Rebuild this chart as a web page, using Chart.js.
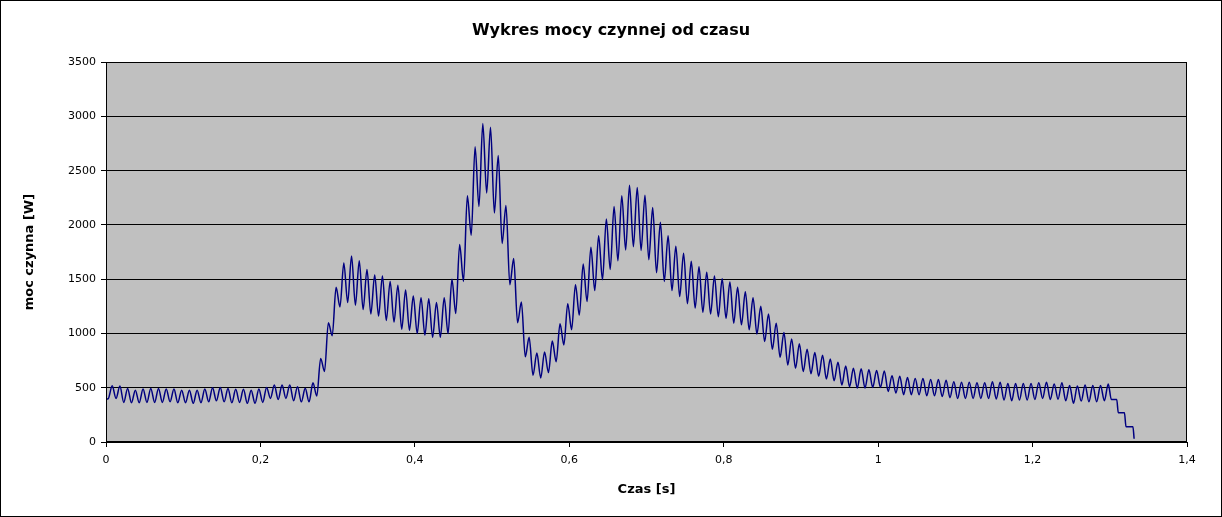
<!DOCTYPE html>
<html>
<head>
<meta charset="utf-8">
<script src="https://cdn.jsdelivr.net/npm/chart.js@4"></script>
<style>
  html, body { margin: 0; padding: 0; background: #fff; }
  #wrap { width: 1222px; height: 517px; }
</style>
</head>
<body>
<div id="wrap"><canvas id="mocCanvas" width="1222" height="517"></canvas></div>
<script>
// --------------------- DANE ---------------------
// co 0.01 s: dolina (t = k*0.01 + 0.003) i szczyt (t = k*0.01 + 0.008)
const okres = 0.01;
const przesDolina = 0.003;
const przesSzczyt = 0.008;

const szczyty = [
    518, 515, 494, 478, 488, 494, 494, 488, 488, 478, 478, 478,
    488, 500, 503, 494, 485, 485, 478, 488, 503, 525, 525, 525,
    510, 495, 545, 770, 1100, 1425, 1650, 1715, 1670, 1590, 1540, 1530,
    1480, 1445, 1400, 1345, 1330, 1320, 1285, 1330, 1500, 1820, 2270, 2720,
    2935, 2900, 2640, 2180, 1690, 1290, 965, 820, 830, 930, 1090, 1275,
    1450, 1640, 1795, 1900, 2055, 2170, 2270, 2365, 2345, 2275, 2160, 2025,
    1900, 1805, 1740, 1665, 1615, 1565, 1530, 1505, 1475, 1425, 1385, 1330,
    1250, 1180, 1095, 1010, 950, 905, 855, 825, 800, 765, 735, 700,
    680, 675, 665, 660, 655, 610, 605, 595, 585, 585, 575, 575,
    570, 555, 550, 550, 545, 545, 555, 550, 540, 540, 540, 540,
    545, 550, 535, 545, 520, 515, 525, 520, 520, 535
];

const doliny = [
    400, 402, 365, 362, 362, 365, 365, 365, 371, 362, 362, 356,
    362, 371, 380, 371, 362, 365, 356, 356, 365, 402, 392, 402,
    380, 370, 370, 423, 650, 980, 1245, 1285, 1260, 1220, 1180, 1160,
    1120, 1105, 1040, 1030, 1000, 985, 965, 965, 1000, 1185, 1480, 1905,
    2170, 2295, 2110, 1830, 1450, 1100, 785, 615, 590, 640, 740, 895,
    1035, 1170, 1295, 1395, 1495, 1590, 1670, 1770, 1800, 1765, 1680, 1560,
    1480, 1395, 1340, 1275, 1235, 1195, 1180, 1155, 1140, 1095, 1080, 1035,
    995, 925, 855, 780, 710, 680, 650, 630, 605, 580, 565, 525,
    510, 497, 497, 503, 503, 466, 451, 436, 436, 436, 426, 426,
    420, 408, 402, 402, 402, 402, 402, 396, 386, 380, 386, 386,
    392, 402, 392, 395, 380, 356, 377, 371, 371, 380
];

// poczatek i koncowka (wylaczanie)
const startCzas = [0];
const startMoc = [395];
const koniecCzas = [1.302, 1.309, 1.311, 1.319, 1.321, 1.330, 1.3315];
const koniecMoc = [392, 392, 270, 270, 141, 141, 30];

const xTicks = [0, 0.2, 0.4, 0.6, 0.8, 1, 1.2, 1.4];

// SETUP BLOCK
const punkty = [];
startCzas.forEach((t, i) => punkty.push({ x: t, y: startMoc[i] }));
for (let k = 0; k < szczyty.length; k++) {
    punkty.push({ x: k * okres + przesDolina, y: doliny[k] });
    punkty.push({ x: k * okres + przesSzczyt, y: szczyty[k] });
}
koniecCzas.forEach((t, i) => punkty.push({ x: t, y: koniecMoc[i] }));

const data = {
    datasets: [{
        data: punkty,
        label: 'moc czynna',
        fill: false,
        borderColor: '#000080',
        borderWidth: 1.5,
        pointRadius: 0,
        cubicInterpolationMode: 'monotone'
    }]
};

// tlo obszaru wykresu + ramki
const tloPlugin = {
    id: 'tlo',
    beforeDraw(chart) {
        const { ctx, chartArea: a } = chart;
        ctx.save();
        ctx.fillStyle = '#fff';
        ctx.fillRect(0, 0, chart.width, chart.height);
        ctx.fillStyle = '#C0C0C0';
        ctx.fillRect(a.left, a.top, a.right - a.left, a.bottom - a.top);
        ctx.strokeStyle = '#000';
        ctx.lineWidth = 1;
        ctx.strokeRect(0.5, 0.5, chart.width - 1, chart.height - 1);
        ctx.restore();
    },
    afterDraw(chart) {
        const { ctx, chartArea: a } = chart;
        ctx.save();
        ctx.strokeStyle = '#000';
        ctx.lineWidth = 1;
        ctx.strokeRect(Math.round(a.left) + 0.5, Math.round(a.top) + 0.5,
            Math.round(a.right - a.left) - 1, Math.round(a.bottom - a.top) - 1);
        ctx.restore();
    }
};

const fmt = v => String(Number(v.toFixed(1))).replace('.', ',');

// CONFIG BLOCK
const config = {
    type: 'line',
    data,
    options: {
        responsive: false,
        animation: false,
        layout: { padding: 0 },
        plugins: {
            legend: { display: false },
            tooltip: { enabled: false },
            title: {
                display: true,
                text: 'Wykres mocy czynnej od czasu',
                color: '#000',
                font: { family: 'DejaVu Sans', size: 16, weight: 'bold' },
                padding: { top: 21, bottom: 22 }
            }
        },
        scales: {
            x: {
                type: 'linear',
                min: 0,
                max: 1.4,
                afterBuildTicks: s => { s.ticks = xTicks.map(v => ({ value: v })); },
                afterFit: s => { s.height = 75; },
                grid: { drawOnChartArea: false, color: '#000', tickColor: '#000', tickLength: 5 },
                border: { color: '#000' },
                ticks: {
                    color: '#000',
                    padding: 7,
                    maxRotation: 0,
                    font: { family: 'DejaVu Sans', size: 11 },
                    callback: v => fmt(v)
                },
                title: {
                    display: true,
                    text: 'Czas [s]',
                    color: '#000',
                    font: { family: 'DejaVu Sans', size: 13, weight: 'bold' },
                    padding: { top: 0, bottom: 20 }
                }
            },
            y: {
                min: 0,
                max: 3500,
                afterFit: s => { s.width = 106; },
                grid: { color: '#000', tickColor: '#000', tickLength: 5, lineWidth: 1 },
                border: { color: '#000' },
                ticks: {
                    stepSize: 500,
                    color: '#000',
                    padding: 5,
                    font: { family: 'DejaVu Sans', size: 11 },
                    callback: v => String(v)
                },
                title: {
                    display: true,
                    text: 'moc czynna [W]',
                    color: '#000',
                    font: { family: 'DejaVu Sans', size: 13, weight: 'bold' },
                    padding: { top: 22, bottom: 0 }
                }
            },
            // pusty margines z prawej strony
            yPrawy: {
                position: 'right',
                min: 0,
                max: 3500,
                afterFit: s => { s.width = 35; },
                grid: { display: false },
                border: { display: false },
                ticks: { display: false }
            }
        }
    },
    plugins: [tloPlugin]
};

// RENDER BLOCK
const mocChart = new Chart(
    document.getElementById('mocCanvas').getContext('2d'),
    config
);
</script>
</body>
</html>
